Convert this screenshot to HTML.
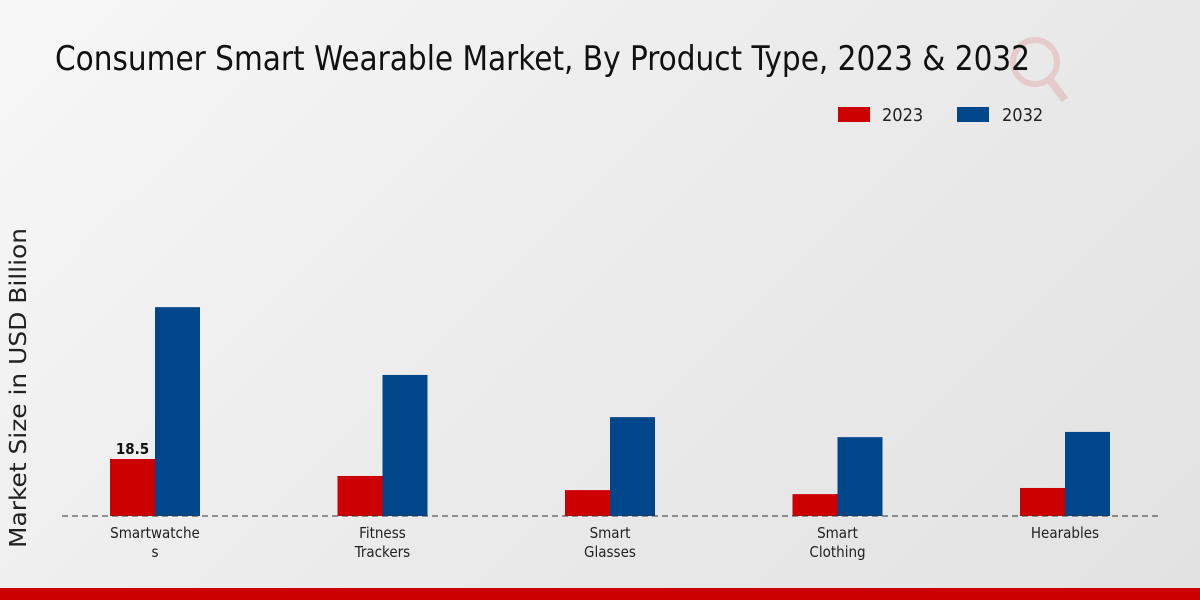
<!DOCTYPE html>
<html><head><meta charset="utf-8"><style>
body{margin:0;width:1200px;height:600px;overflow:hidden;font-family:"DejaVu Sans Condensed","DejaVu Sans","Liberation Sans",sans-serif;}
#bg{position:absolute;left:0;top:0;width:1200px;height:600px;background:linear-gradient(135deg,#f7f7f7 0%,#ebebeb 50%,#e2e2e2 100%);}
</style></head><body>
<div id="bg"></div>
<svg id="chart" width="1200" height="600" style="position:absolute;left:0;top:0">
<g opacity="0.12"><circle cx="1035" cy="62" r="22" fill="none" stroke="#c00" stroke-width="6"/><line x1="1050" y1="80" x2="1065" y2="100" stroke="#c00" stroke-width="8"/></g>
<text x="55" y="70" font-size="34" font-stretch="condensed" textLength="975" lengthAdjust="spacingAndGlyphs" fill="#111">Consumer Smart Wearable Market, By Product Type, 2023 &amp; 2032</text>
<g>
<rect x="838" y="107" width="32" height="15" fill="#cc0000"/>
<text x="882" y="121" font-size="18" fill="#222">2023</text>
<rect x="957" y="107" width="32" height="15" fill="#00468b"/>
<text x="1002" y="121" font-size="18" fill="#222">2032</text>
</g>
<text transform="translate(26,388) rotate(-90)" text-anchor="middle" font-size="23" font-family="DejaVu Sans, sans-serif" textLength="320" lengthAdjust="spacingAndGlyphs" fill="#222">Market Size in USD Billion</text>
<g id="bars"></g>
<line x1="62" y1="516" x2="1160" y2="516" stroke="#333" stroke-dasharray="6,4"/>
<g id="labels"></g>
<rect x="0" y="588" width="1200" height="12" fill="#cc0000"/>
</svg>
<script>
const categories=[["Smartwatche","s"],["Fitness","Trackers"],["Smart","Glasses"],["Smart","Clothing"],["Hearables"]];
const values2023=[18.5,13.0,8.4,7.1,9.1];
const values2032=[67.8,45.8,32.1,25.6,27.3];
const ns="http://www.w3.org/2000/svg";
const baseY=516, scale=3.08, x0=155, step=227.5, bw=45;
const yPx=v=>baseY-v*scale;
const bars=document.getElementById('bars'), labels=document.getElementById('labels');
categories.forEach((c,i)=>{
  const cx=x0+i*step;
  [[values2023[i],cx-bw,'#cc0000','2023'],[values2032[i],cx,'#00468b','2032']].forEach(([v,x,col,yr])=>{
    const r=document.createElementNS(ns,'rect');
    r.setAttribute('x',x);r.setAttribute('y',yPx(v));r.setAttribute('width',bw);r.setAttribute('height',baseY-yPx(v));r.setAttribute('fill',col);
    
    
    bars.appendChild(r);
  });
  c.forEach((line,j)=>{
    const t=document.createElementNS(ns,'text');
    t.setAttribute('x',cx);t.setAttribute('y',538+j*19);t.setAttribute('text-anchor','middle');t.setAttribute('font-size','15');t.setAttribute('fill','#222');
    t.textContent=line;
    
    
    labels.appendChild(t);
  });
});
const vl=document.createElementNS(ns,'text');
vl.setAttribute('x',x0-bw/2);vl.setAttribute('y',yPx(values2023[0])-5);vl.setAttribute('text-anchor','middle');vl.setAttribute('font-size','15');vl.setAttribute('font-weight','bold');vl.setAttribute('fill','#111');
vl.textContent=values2023[0];


labels.appendChild(vl);
</script>
</body></html>
